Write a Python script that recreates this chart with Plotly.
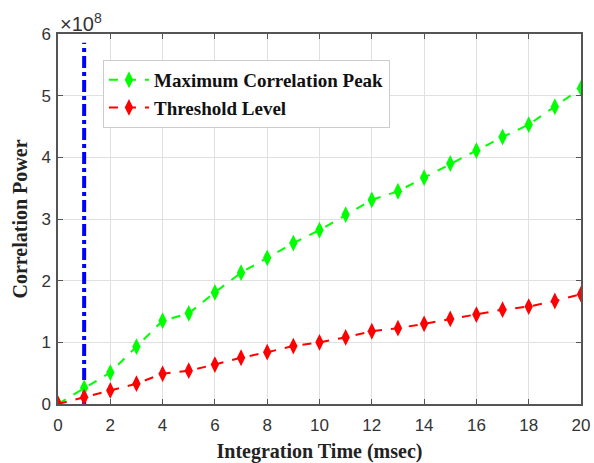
import plotly.graph_objects as go

# Integration time (msec)
x_ms = list(range(0, 21))
# Correlation power, in units of 1e8
max_peak = [0, 0.26, 0.51, 0.93, 1.35, 1.47, 1.81, 2.13, 2.37, 2.61, 2.82,
            3.07, 3.31, 3.45, 3.67, 3.90, 4.11, 4.33, 4.53, 4.82, 5.12]
threshold = [0, 0.11, 0.22, 0.33, 0.49, 0.54, 0.64, 0.75, 0.84, 0.94, 1.00,
             1.08, 1.18, 1.23, 1.30, 1.38, 1.45, 1.53, 1.58, 1.67, 1.78]
vline_x = [1, 1]
vline_y = [0, 5.86]
x_ticks = list(range(0, 21, 2))
y_ticks = list(range(0, 7))

serif = "Liberation Serif, Times New Roman, serif"
sans = "Liberation Sans, Arial, sans-serif"

fig = go.Figure()
fig.add_trace(go.Scatter(x=vline_x, y=vline_y, mode="lines",
                         line=dict(color="#0000ff", width=4, dash="dashdot"),
                         showlegend=False, hoverinfo="skip"))
fig.add_trace(go.Scatter(x=x_ms, y=max_peak, mode="lines+markers",
                         name="<b>Maximum Correlation Peak</b>",
                         line=dict(color="#00ff00", width=2, dash="dash"),
                         marker=dict(symbol="diamond-tall", size=12, color="#00ff00")))
fig.add_trace(go.Scatter(x=x_ms, y=threshold, mode="lines+markers",
                         name="<b>Threshold Level</b>",
                         line=dict(color="#ff0000", width=2, dash="dash"),
                         marker=dict(symbol="diamond-tall", size=12, color="#ff0000")))

axis_common = dict(showline=True, linecolor="#555555", linewidth=1.5, mirror="ticks",
                   ticks="inside", ticklen=5, tickcolor="#555555", automargin=False,
                   showgrid=True, gridcolor="#e0e0e0", gridwidth=1, zeroline=False,
                   tickfont=dict(family=sans, size=17, color="#333333"))

fig.update_xaxes(range=[0, 20], tickvals=x_ticks, ticklabelstandoff=5,
                 title=dict(text="<b>Integration Time (msec)</b>",
                            font=dict(family=serif, size=20, color="#222222"), standoff=12),
                 **axis_common)
fig.update_yaxes(range=[0, 6], tickvals=y_ticks, ticklabelstandoff=2,
                 title=dict(text="<b>Correlation Power</b>",
                            font=dict(family=serif, size=20, color="#222222"), standoff=8),
                 **axis_common)

fig.add_annotation(x=0, y=1, xref="paper", yref="paper", xanchor="left", yanchor="bottom",
                   text="×10<sup>8</sup>", showarrow=False, yshift=-3, xshift=0,
                   font=dict(family=sans, size=20, color="#333333"))

fig.update_layout(width=594, height=463, plot_bgcolor="white", paper_bgcolor="white",
                  margin=dict(l=58, r=13, t=34, b=59),
                  legend=dict(x=0.086, y=0.93, xanchor="left", yanchor="top",
                              bgcolor="white", bordercolor="#cccccc", borderwidth=1,
                              font=dict(family=serif, size=19, color="#111111"),
                              itemwidth=40, tracegroupgap=0),
                  showlegend=True)

fig.write_html("out.html")
